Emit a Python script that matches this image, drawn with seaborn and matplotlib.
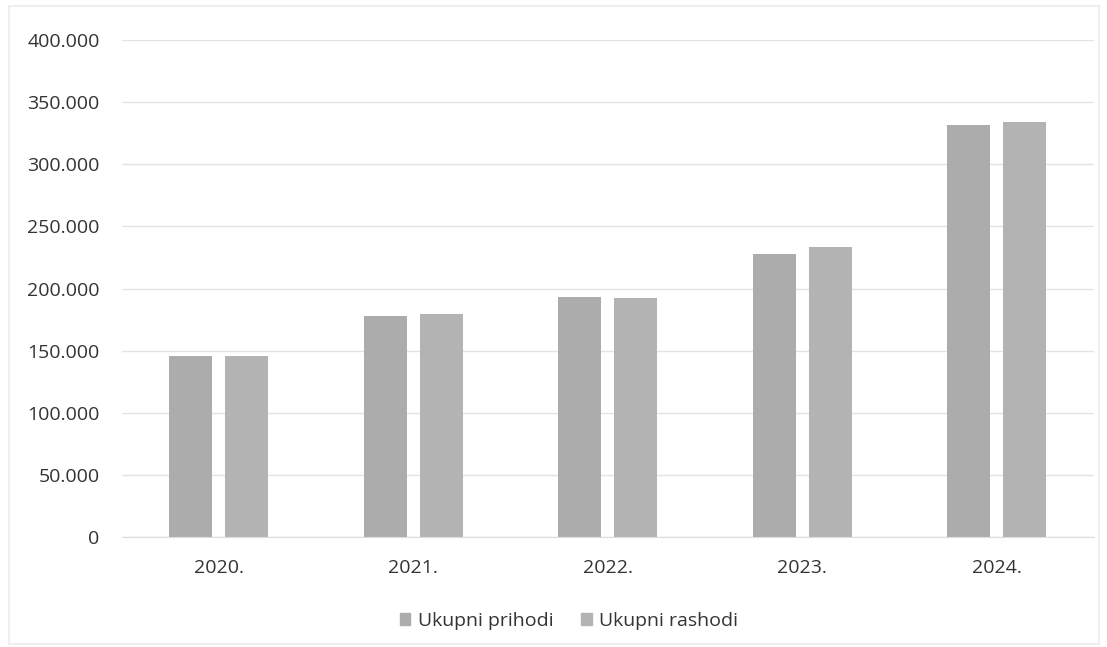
import matplotlib
matplotlib.use("Agg")
import matplotlib.pyplot as plt
import matplotlib.patches as mpatches
from matplotlib.ticker import FuncFormatter
import seaborn as sns
import pandas as pd

years = ["2020.", "2021.", "2022.", "2023.", "2024."]
prihodi = [145700, 177900, 193200, 228000, 331700]
rashodi = [145600, 179200, 192600, 233600, 334200]
series_names = ["Ukupni prihodi", "Ukupni rashodi"]
y_ticks = [0, 50000, 100000, 150000, 200000, 250000, 300000, 350000, 400000]

df = pd.DataFrame({
    "year": years * 2,
    "value": prihodi + rashodi,
    "series": [series_names[0]] * len(years) + [series_names[1]] * len(years),
})

sns.set_style("white")
plt.rcParams["font.family"] = ["Open Sans", "DejaVu Sans"]

colors = ["#acacac", "#b3b3b3"]
fig = plt.figure(figsize=(11.07, 6.47), dpi=100)
ax = fig.add_axes([0.110, 0.170, 0.878, 0.768])

sns.barplot(data=df, x="year", y="value", hue="series", palette=colors,
            width=0.576, gap=0.232, ax=ax, legend=False, saturation=1, linewidth=0)

ax.set_ylim(0, 400000)
ax.set_xlim(-0.5, len(years) - 0.5)
ax.set_yticks(y_ticks)
ax.yaxis.set_major_formatter(FuncFormatter(lambda v, p: f"{int(v):,}".replace(",", ".")))
ax.grid(axis="y", color="#e3e3e3", linewidth=1.0)
ax.set_axisbelow(True)
for s in ["top", "right", "left"]:
    ax.spines[s].set_visible(False)
ax.spines["bottom"].set_color("#dcdcdc")
ax.tick_params(axis="both", length=0, labelsize=14, colors="#333333")
ax.tick_params(axis="y", pad=16)
ax.tick_params(axis="x", pad=16)
ax.set_xlabel("")
ax.set_ylabel("")

handles = [mpatches.Patch(color=c, label=n) for c, n in zip(colors, series_names)]
fig.legend(handles=handles, loc="center", bbox_to_anchor=(0.514, 0.04), ncol=2,
           frameon=False, fontsize=14, handlelength=0.55, handleheight=0.55,
           handletextpad=0.4, columnspacing=1.4, labelcolor="#333333")

fig.patches.append(mpatches.Rectangle((0.008, 0.005), 0.985, 0.985, transform=fig.transFigure,
                                      fill=False, edgecolor="#ececec", linewidth=1.2))

fig.savefig("out.png", dpi=100)
